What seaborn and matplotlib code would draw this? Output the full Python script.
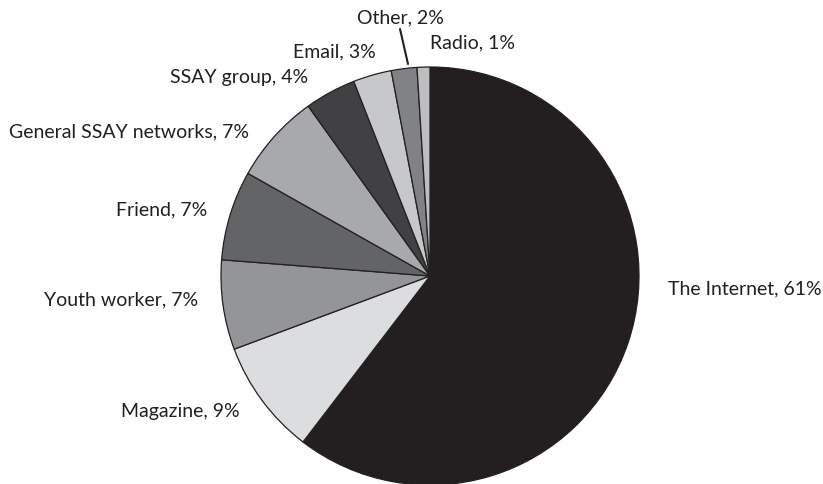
import matplotlib
matplotlib.use("Agg")
import matplotlib.pyplot as plt
import seaborn as sns

# data
sources = ['The Internet', 'Magazine', 'Youth worker', 'Friend',
           'General SSAY networks', 'SSAY group', 'Email', 'Other', 'Radio']
percent = [61, 9, 7, 7, 7, 4, 3, 2, 1]
greys = ['#231f20', '#dcdddf', '#939598', '#636466', '#a7a9ac',
         '#414042', '#c7c8ca', '#808285', '#bcbec0']

# label anchors in pixels (x, y from top) and alignment
label_px = [(668, 289, 'left'), (240, 412, 'right'), (198, 300, 'right'),
            (207, 210, 'right'), (249, 132, 'right'), (308, 78, 'right'),
            (376, 52, 'right'), (444, 18, 'right'), (515, 43, 'right')]

sns.set_theme(style='white')
plt.rcParams['font.family'] = ['Lato', 'DejaVu Sans']

W, H = 823, 484
cx, cy, r = 430, 276, 209
fig = plt.figure(figsize=(W / 100, H / 100), dpi=100)
ax = fig.add_axes([0, 0, 1, 1])
ax.pie(percent, colors=greys, startangle=90, counterclock=False,
       radius=1, center=(0, 0),
       wedgeprops=dict(edgecolor='#231f20', linewidth=0.9))
ax.set_xlim(-cx / r, (W - cx) / r)
ax.set_ylim(-(H - cy) / r, cy / r)
ax.set_aspect('equal')
ax.axis('off')

for name, p, (x, y, ha) in zip(sources, percent, label_px):
    fig.text(x / W, 1 - y / H, f'{name}, {p}%', ha=ha, va='center',
             fontsize=14, color='#231f20')

# leader line for "Other"
fig.add_artist(plt.Line2D([400 / W, 408 / W], [1 - 29 / H, 1 - 64 / H],
                          color='#231f20', lw=1.5))

fig.savefig('out.png', dpi=100)
